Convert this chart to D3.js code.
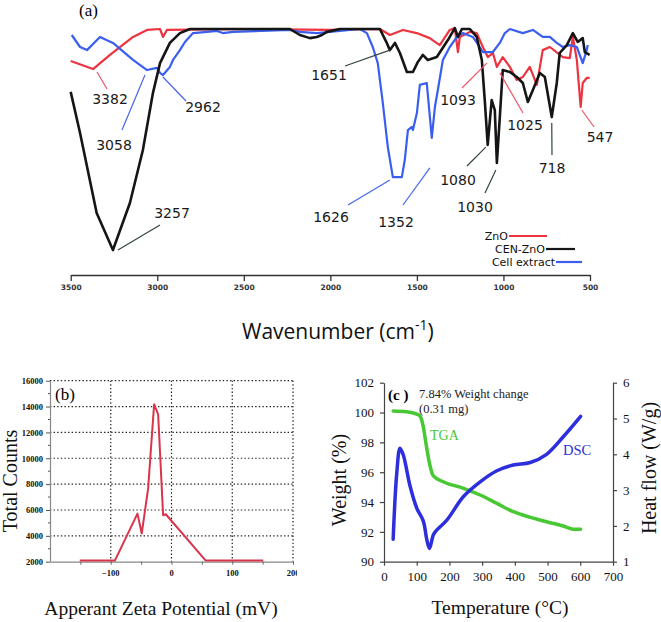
<!DOCTYPE html>
<html><head><meta charset="utf-8">
<script src="https://cdn.jsdelivr.net/npm/d3@7"></script>
<style>html,body{margin:0;padding:0;background:#fff;}</style>
</head><body><div id="chart"></div>
<script>
// ---------- Panel (a): FTIR ----------
const wnTicks = [3500, 3000, 2500, 2000, 1500, 1000, 500];
const znoWn = [3500,3371,3273,3140,3059,2984,2967,2944,2465,2003,1714,1656,1581,1501,1426,1368,1310,1281,1263,1252,1194,1154,1119,1090,1061,1038,1004,963,923,888,848,807,773,732,657,617,599,576,554,542,519,502];
const znoT  = [86.7,83.3,89.2,96.7,99.6,100,96.7,99.6,100,99.6,100,97.5,99.6,98.3,96.2,93.3,99.6,100.4,90.4,96.7,98.8,98.3,92.5,88.3,90,84.2,88.3,84.2,78.8,80,84.2,76.7,91.2,92.5,88.3,87.9,96.7,87.1,67.5,77.5,79.6,79.6];
const cenWn = [3500,3446,3350,3256,3158,3083,3025,2984,2927,2869,2811,2234,2176,2118,2078,2049,2020,1945,1714,1674,1656,1627,1598,1558,1523,1495,1466,1437,1385,1321,1281,1263,1240,1194,1154,1125,1108,1091,1068,1050,1038,1021,1004,963,923,888,859,830,790,761,721,692,675,634,599,571,542,530,502];
const cenT  = [73.8,56.7,23.3,7.9,27.5,49.6,73.3,85.8,94.2,98.3,100,100,97.5,96.2,96.7,97.5,98.8,100,100,94.2,91.2,94.2,90,82.1,82.1,86.2,89.2,87.1,88.3,95.4,100.4,96.7,100,100,96.7,87.1,70.4,51.7,70.4,66.2,44.2,63.3,82.9,82.1,80,77.5,69.6,74.6,81.7,80,63.3,77.5,90,93.3,98.3,94.6,96.2,90.4,89.2];
const cellWn = [3494,3446,3406,3331,3256,3140,3059,3002,2984,2967,2927,2909,2869,2840,2793,2713,2655,2621,2563,2234,2176,2078,2003,1830,1789,1755,1726,1697,1668,1639,1587,1570,1552,1529,1523,1500,1483,1443,1414,1396,1379,1350,1310,1269,1235,1177,1137,1119,1061,1021,992,963,888,830,773,732,692,657,617,576,542,519,513];
const cellT  = [97.5,92.5,91.2,96.7,94.2,87.1,82.9,83.8,81.7,80.8,84.2,87.1,91.2,94.6,98.3,98.8,99.2,98.3,98.8,99.6,98.8,98.3,98.8,100,98.3,92.5,85.8,69.2,50.8,38.3,38.3,45.4,57.9,59.2,57.9,65,76.7,77.5,54.6,67.5,74.6,87.1,92.5,96.7,98.3,96.7,92.5,90.4,90.4,94.2,98.3,100,98.3,99.6,96.7,96.7,94.2,92.5,93.3,92.5,85.8,91.2,93.3];
const seriesNames = ["ZnO", "CEN-ZnO", "Cell extract"];
const seriesColors = ["#ee3340", "#151515", "#3a5ff0"];

// peak annotations (label, anchor on curve in data units)
const peakLabels = ["3382","3058","2962","3257","1651","1626","1352","1093","1025","1080","1030","718","547"];
const peakSeries = [0,2,2,1,1,2,2,0,0,1,1,1,0];
const peakWn = [3348,3071,2967,3227,1656,1656,1425,1096,1021,1102,1044,721,547];
const peakT  = [82.1,80.8,80,7.9,91.2,37.1,42.1,85.8,81.7,50.8,41.25,60.8,66.25];

// ---------- Panel (b): zeta potential ----------
const zetaX = [-151,-93,-56,-49,-38.5,-28.6,-22,-13.8,-9.4,56,151];
const zetaY = [2100,2100,5720,4180,7650,14180,13400,5590,5670,2100,2100];
const zetaYTicks = [2000,4000,6000,8000,10000,12000,14000,16000];
const zetaXTicks = [-100,0,100,200];

// ---------- Panel (c): TGA / DSC ----------
const tgaT = [28,69,100,110,120,130,141,151,181,243,294,345,395,447,497,548,579,601];
const tgaW = [100.1,100.05,99.9,99.77,99.05,97.7,96.4,95.75,95.36,94.92,94.47,93.91,93.35,92.97,92.68,92.39,92.17,92.17];
const dscT = [28,39,49,59,80,100,120,131,139,151,161,192,243,294,345,395,447,497,548,601];
const dscH = [1.63,3.47,4.17,3.98,3.1,2.5,2.14,1.61,1.37,1.75,1.88,2.16,2.82,3.23,3.54,3.70,3.77,4.0,4.49,5.06];
const tempTicks = [0,100,200,300,400,500,600,700];
const weightTicks = [90,92,94,96,98,100,102];
const heatTicks = [1,2,3,4,5,6];

// ================= drawing =================
const fmt = d3.format("d");
const svg = d3.select("#chart").append("svg").attr("width",661).attr("height",622)
  .style("background","#fff");
const SANS = "DejaVu Sans, sans-serif";
const SERIF = "Liberation Serif, Times New Roman, serif";

// ----- Panel (a)
const xA = d3.scaleLinear().domain([3500,500]).range([70.7,590]);
const yA = d3.scaleLinear().domain([0,100]).range([269,29]);
const gA = svg.append("g");
const lineA = d3.line().x(d=>xA(d[0])).y(d=>yA(d[1]));
const seriesData = [d3.zip(znoWn,znoT), d3.zip(cenWn,cenT), d3.zip(cellWn,cellT)];
const widths = [2.2,2.6,2.2];
[0,2,1].forEach(i=>{
  gA.append("path").datum(seriesData[i]).attr("d",lineA).attr("fill","none")
    .attr("stroke",seriesColors[i]).attr("stroke-width",widths[i]).attr("stroke-linejoin","round");
});
const axA = d3.axisBottom(xA).tickValues(wnTicks).tickFormat(fmt).tickSize(6).tickSizeOuter(0).tickPadding(4);
const gax = gA.append("g").attr("transform","translate(0,275)").call(axA);
gax.select(".domain").attr("stroke","#333").attr("stroke-width",1.3);
gax.selectAll(".tick line").attr("stroke","#333").attr("stroke-width",1.3);
gax.selectAll("text").attr("font-family",SANS).attr("font-size",7.5).attr("font-weight","bold").attr("fill","#333");

// peak label layout (pixels)
const labelLayout = [
 {tx:110,ty:104,ex:107,ey:89},{tx:114,ty:150,ex:122,ey:130},{tx:203,ty:112,ex:186,ey:101},
 {tx:172,ty:218,ex:160,ey:225},{tx:329,ty:80,ex:345,ey:66},{tx:331,ty:222,ex:348,ey:205},
 {tx:396,ty:227,ex:403,ey:205},{tx:458,ty:105,ex:462,ey:88},{tx:525,ty:130,ex:523,ey:113},
 {tx:458,ty:185,ex:467,ey:166},{tx:475,ty:212,ex:485,ey:193},{tx:552,ty:173,ex:552,ey:155},
 {tx:600,ty:142,ex:594,ey:127}];
const leaderColors = ["#ee5566","#4466ee","#4466ee","#334444","#334444","#4466ee","#4466ee","#ee5566","#ee5566","#334444","#334444","#334444","#ee5566"];
peakLabels.forEach((lab,i)=>{
  const L = labelLayout[i];
  gA.append("line").attr("x1",xA(peakWn[i])).attr("y1",yA(peakT[i])).attr("x2",L.ex).attr("y2",L.ey)
    .attr("stroke",leaderColors[i]).attr("stroke-width",1.2);
  gA.append("text").attr("x",L.tx).attr("y",L.ty).attr("text-anchor","middle")
    .attr("font-family",SANS).attr("font-size",14).attr("fill","#1a1a1a").text(lab);
});
// legend
const legY = [236,249,262], legTextEnd=[508,545,555], legLine=[[509,547],[546,575],[556,582]];
seriesNames.forEach((n,i)=>{
  gA.append("text").attr("x",legTextEnd[i]).attr("y",legY[i]+4).attr("text-anchor","end")
    .attr("font-family",SANS).attr("font-size",11).attr("fill","#111").text(n);
  gA.append("line").attr("x1",legLine[i][0]).attr("x2",legLine[i][1]).attr("y1",legY[i]).attr("y2",legY[i])
    .attr("stroke",seriesColors[i]).attr("stroke-width",2.2);
});
gA.append("text").attr("x",79).attr("y",16).attr("font-family",SERIF).attr("font-size",17).text("(a)");
const tA = gA.append("text").attr("x",242).attr("y",339).attr("font-family","Open Sans, sans-serif")
  .attr("font-size",21).attr("fill","#111");
tA.append("tspan").text("Wavenumber (cm");
tA.append("tspan").attr("dy",-9).attr("font-size",14).text("-1");
tA.append("tspan").attr("dy",9).text(")");

// ----- Panel (b)
const xB = d3.scaleLinear().domain([-200,200]).range([50,293]);
const yB = d3.scaleLinear().domain([2000,16000]).range([561.7,380.7]);
const gB = svg.append("g");
zetaXTicks.forEach(v=>{
  gB.append("line").attr("x1",xB(v)).attr("x2",xB(v)).attr("y1",yB(16000)).attr("y2",yB(2000))
    .attr("stroke","#222").attr("stroke-width",1.2).attr("stroke-dasharray","1.4,2.2");
});
zetaYTicks.slice(1).forEach(v=>{
  gB.append("line").attr("x1",xB(-200)).attr("x2",xB(200)).attr("y1",yB(v)).attr("y2",yB(v))
    .attr("stroke","#222").attr("stroke-width",1.2).attr("stroke-dasharray","1.4,2.2");
});
const axBL = d3.axisLeft(yB).tickValues(zetaYTicks).tickFormat(fmt).tickSize(4).tickSizeOuter(0).tickPadding(3);
const gbl = gB.append("g").attr("transform",`translate(${xB(-200)},0)`).call(axBL);
gbl.select(".domain").attr("stroke","#888").attr("stroke-width",1.2);
gbl.selectAll(".tick line").attr("stroke","#555");
gbl.selectAll("text").attr("font-family",SERIF).attr("font-size",8.5).attr("font-weight","bold").attr("fill","#111");
d3.range(3000,16000,2000).forEach(v=>{
  gB.append("line").attr("x1",xB(-200)-2).attr("x2",xB(-200)).attr("y1",yB(v)).attr("y2",yB(v)).attr("stroke","#555");
});
const axBB = d3.axisBottom(xB).tickValues(d3.range(-150,201,50)).tickSize(3).tickSizeOuter(0).tickFormat("");
const gbb = gB.append("g").attr("transform",`translate(0,${yB(2000)})`).call(axBB);
gbb.select(".domain").attr("stroke","#888").attr("stroke-width",1.2);
gbb.selectAll(".tick line").attr("stroke","#666");
svg.append("clipPath").attr("id","clipB").append("rect").attr("x",0).attr("y",560).attr("width",297).attr("height",30);
zetaXTicks.forEach(v=>{
  gB.append("text").attr("x",xB(v)).attr("y",576).attr("text-anchor","middle").attr("clip-path","url(#clipB)")
    .attr("font-family",SERIF).attr("font-size",8.5).attr("font-weight","bold").attr("fill","#111").text(fmt(v));
});
gB.append("path").datum(d3.zip(zetaX,zetaY)).attr("d",d3.line().x(d=>xB(d[0])).y(d=>yB(d[1])))
  .attr("fill","none").attr("stroke","#d8344c").attr("stroke-width",2).attr("stroke-linejoin","round");
gB.append("text").attr("x",55).attr("y",400).attr("font-family",SERIF).attr("font-size",17).text("(b)");
gB.append("text").attr("transform","translate(17,481) rotate(-90)").attr("text-anchor","middle")
  .attr("font-family",SERIF).attr("font-size",20).attr("fill","#111").text("Total Counts");
gB.append("text").attr("x",161).attr("y",615).attr("text-anchor","middle")
  .attr("font-family",SERIF).attr("font-size",19.5).attr("fill","#111").text("Apperant Zeta Potential (mV)");

// ----- Panel (c)
const xC = d3.scaleLinear().domain([0,700]).range([384,613]);
const yL = d3.scaleLinear().domain([90,102]).range([561.7,382.7]);
const yR = d3.scaleLinear().domain([1,6]).range([561.7,382.7]);
const gC = svg.append("g");
const styleAx = (g)=>{
  g.select(".domain").attr("stroke","#444").attr("stroke-width",1.2);
  g.selectAll(".tick line").attr("stroke","#444").attr("stroke-width",1.2);
  g.selectAll("text").attr("font-family",SERIF).attr("font-size",13).attr("fill","#111");
};
gC.append("g").attr("transform","translate(0,561.7)")
  .call(d3.axisBottom(xC).tickValues(tempTicks).tickFormat(fmt).tickSize(4).tickSizeOuter(0).tickPadding(6)).call(styleAx);
gC.append("g").attr("transform","translate(384,0)")
  .call(d3.axisLeft(yL).tickValues(weightTicks).tickFormat(fmt).tickSize(4).tickSizeOuter(0).tickPadding(6)).call(styleAx);
gC.append("g").attr("transform","translate(613,0)")
  .call(d3.axisRight(yR).tickValues(heatTicks).tickFormat(fmt).tickSize(4).tickSizeOuter(0).tickPadding(6)).call(styleAx);
gC.append("path").datum(d3.zip(tgaT,tgaW)).attr("d",d3.line().curve(d3.curveMonotoneX).x(d=>xC(d[0])).y(d=>yL(d[1])))
  .attr("fill","none").attr("stroke","#48c832").attr("stroke-width",3.5).attr("stroke-linecap","round");
gC.append("path").datum(d3.zip(dscT,dscH)).attr("d",d3.line().curve(d3.curveCatmullRom).x(d=>xC(d[0])).y(d=>yR(d[1])))
  .attr("fill","none").attr("stroke","#2d2fdc").attr("stroke-width",3.5).attr("stroke-linecap","round");
gC.append("text").attr("x",388).attr("y",400).attr("font-family",SERIF).attr("font-size",15).attr("font-weight","bold").text("(c )");
gC.append("text").attr("x",419).attr("y",398).attr("font-family",SERIF).attr("font-size",12.5).attr("fill","#222").text("7.84% Weight change");
gC.append("text").attr("x",419).attr("y",413).attr("font-family",SERIF).attr("font-size",12.5).attr("fill","#222").text("(0.31 mg)");
gC.append("text").attr("x",430).attr("y",440).attr("font-family",SERIF).attr("font-size",14).attr("fill","#48c832").text("TGA");
gC.append("text").attr("x",563).attr("y",455).attr("font-family",SERIF).attr("font-size",14.5).attr("fill","#2d2fdc").text("DSC");
gC.append("text").attr("transform","translate(346,480) rotate(-90)").attr("text-anchor","middle")
  .attr("font-family",SERIF).attr("font-size",20).attr("fill","#111").text("Weight (%)");
gC.append("text").attr("transform","translate(656,468) rotate(-90)").attr("text-anchor","middle")
  .attr("font-family",SERIF).attr("font-size",20).attr("fill","#111").text("Heat flow (W/g)");
gC.append("text").attr("x",500).attr("y",614).attr("text-anchor","middle")
  .attr("font-family",SERIF).attr("font-size",19.5).attr("fill","#111").text("Temperature (°C)");
</script></body></html>
